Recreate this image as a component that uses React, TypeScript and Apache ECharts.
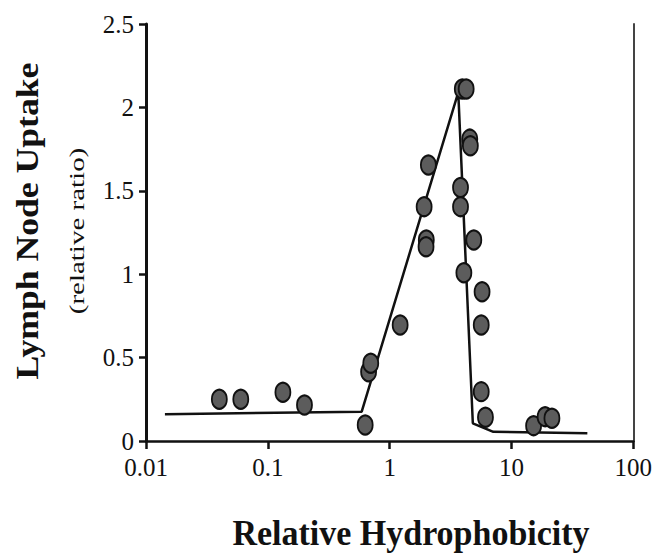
import React, { useEffect, useRef } from "react";
import * as echarts from "echarts";

// Scatter points (relative hydrophobicity, lymph node uptake ratio)
const pointX = [0.04, 0.06, 0.133, 0.2, 0.63, 0.672, 0.7, 1.22, 1.92, 2.0, 1.99, 2.08, 3.82, 3.82, 3.95, 4.25, 4.07, 4.55, 4.6, 4.91, 5.74, 5.65, 5.65, 6.12, 15.2, 18.9, 21.5];
const pointY = [0.25, 0.25, 0.292, 0.216, 0.096, 0.415, 0.466, 0.695, 1.405, 1.205, 1.165, 1.655, 1.52, 1.405, 2.11, 2.11, 1.009, 1.81, 1.77, 1.205, 0.895, 0.695, 0.296, 0.142, 0.092, 0.146, 0.136];

// Fitted piecewise line
const lineX = [0.0143, 0.59, 3.66, 4.82, 7.1, 42];
const lineY = [0.16, 0.176, 2.09, 0.106, 0.055, 0.047];

const xTickLabels = ["0.01", "0.1", "1", "10", "100"];
const yTickLabels = ["0", "0.5", "1", "1.5", "2", "2.5"];

export default function App() {
  const ref = useRef<HTMLDivElement>(null);
  useEffect(() => {
    if (!ref.current) return;
    const chart = echarts.init(ref.current, null, { renderer: "svg" });
    const serif = '"Liberation Serif", "Times New Roman", serif';
    chart.setOption({
      animation: false,
      backgroundColor: "#ffffff",
      grid: { left: 146, right: 20, top: 24, bottom: 115 },
      xAxis: {
        type: "log",
        logBase: 10,
        min: 0.01,
        max: 100,
        axisLine: { show: true, onZero: false, lineStyle: { color: "#111", width: 2.5 } },
        axisTick: { show: true, inside: false, length: 8, lineStyle: { color: "#111", width: 2.5 } },
        minorTick: { show: false },
        splitLine: { show: false },
        axisLabel: {
          fontFamily: serif,
          fontSize: 25,
          color: "#111",
          margin: 14,
          formatter: (_v: number, i: number) => xTickLabels[i] ?? "",
        },
      },
      yAxis: [
        {
          type: "value",
          min: 0,
          max: 2.5,
          interval: 0.5,
          axisLine: { show: true, lineStyle: { color: "#111", width: 3 } },
          axisTick: { show: true, inside: false, length: 7, lineStyle: { color: "#111", width: 2.5 } },
          splitLine: { show: false },
          axisLabel: {
            fontFamily: serif,
            fontSize: 25,
            color: "#111",
            margin: 12,
            formatter: (_v: number, i: number) => yTickLabels[i] ?? "",
          },
        },
        {
          type: "value",
          position: "right",
          min: 0,
          max: 2.5,
          interval: 0.5,
          axisLine: { show: true, lineStyle: { color: "#444", width: 2 } },
          axisTick: { show: false },
          axisLabel: { show: false },
          splitLine: { show: false },
        },
      ],
      series: [
        {
          type: "line",
          data: lineX.map((x, i) => [x, lineY[i]]),
          showSymbol: false,
          symbol: "none",
          lineStyle: { color: "#111", width: 2.5 },
          z: 2,
        },
        {
          type: "scatter",
          data: pointX.map((x, i) => [x, pointY[i]]),
          symbol: "circle",
          symbolSize: [15, 19],
          itemStyle: { color: "#5c5c5c", borderColor: "#111", borderWidth: 2, opacity: 1 },
          z: 3,
        },
      ],
      graphic: [
        {
          type: "text",
          x: 411,
          y: 533,
          scaleY: 1.08,
          style: {
            text: "Relative Hydrophobicity",
            font: 'bold 34px "Liberation Serif"',
            fill: "#111",
            align: "center",
            verticalAlign: "middle",
            textAlign: "center",
            textVerticalAlign: "middle",
          },
        },
        {
          type: "text",
          x: 27,
          y: 221,
          rotation: Math.PI / 2,
          scaleX: 1.15,
          style: {
            text: "Lymph Node Uptake",
            font: 'bold 31px "Liberation Serif"',
            fill: "#111",
            align: "center",
            verticalAlign: "middle",
            textAlign: "center",
            textVerticalAlign: "middle",
          },
        },
        {
          type: "text",
          x: 77,
          y: 231,
          rotation: Math.PI / 2,
          scaleX: 1.45,
          style: {
            text: "(relative ratio)",
            font: '20px "Liberation Serif"',
            fill: "#111",
            align: "center",
            verticalAlign: "middle",
            textAlign: "center",
            textVerticalAlign: "middle",
          },
        },
      ],
    });
    return () => chart.dispose();
  }, []);
  return (
    <div
      ref={ref}
      style={{ position: "fixed", left: 0, top: 0, width: 655, height: 556, background: "#fff" }}
    />
  );
}
